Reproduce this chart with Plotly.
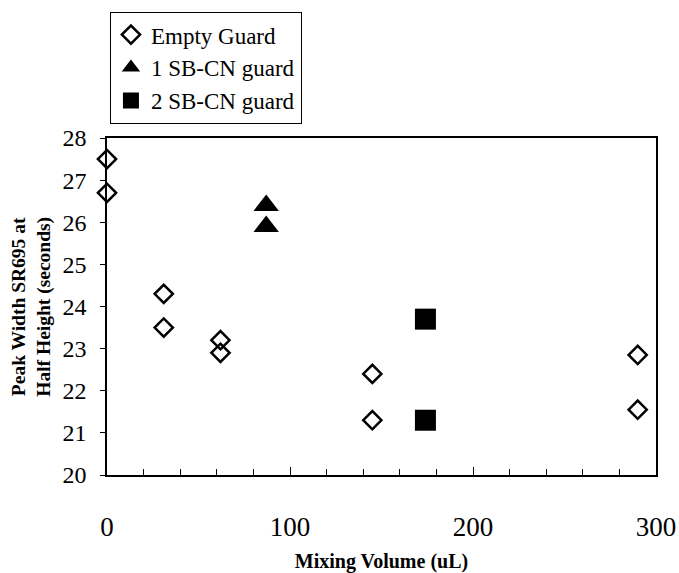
import plotly.graph_objects as go

# Data
empty_x = [0, 0, 31, 31, 62, 62, 145, 145, 290, 290]
empty_y = [27.5, 26.7, 24.3, 23.5, 23.2, 22.9, 22.4, 21.3, 22.85, 21.55]
one_x = [87, 87]
one_y = [26.4, 25.9]
two_x = [174, 174]
two_y = [23.7, 21.3]

x_ticks = [0, 100, 200, 300]
y_ticks = [20, 21, 22, 23, 24, 25, 26, 27, 28]

font_family = "Liberation Serif"

fig = go.Figure()
fig.add_trace(go.Scatter(x=empty_x, y=empty_y, mode="markers", name="Empty Guard",
                         marker=dict(symbol="diamond-open", size=14, color="black",
                                     line=dict(width=2.5, color="black")),
                         cliponaxis=False))
fig.add_trace(go.Scatter(x=one_x, y=one_y, mode="markers", name="1 SB-CN guard",
                         marker=dict(symbol="triangle-up", size=22, color="black"),
                         cliponaxis=False))
fig.add_trace(go.Scatter(x=two_x, y=two_y, mode="markers", name="2 SB-CN guard",
                         marker=dict(symbol="square", size=21, color="black"),
                         cliponaxis=False))

fig.update_layout(
    width=679, height=573,
    margin=dict(l=107, r=23, t=138, b=98),
    paper_bgcolor="white", plot_bgcolor="white",
    font=dict(family=font_family, color="black"),
    showlegend=True,
    legend=dict(x=0.005, y=1.374, xanchor="left", yanchor="top",
                bordercolor="black", borderwidth=1.2, bgcolor="white",
                font=dict(size=23, family=font_family),
                itemsizing="trace", tracegroupgap=0, itemwidth=30),
)
fig.update_xaxes(
    range=[0, 300], tickvals=x_ticks, ticktext=[str(v) for v in x_ticks],
    ticks="inside", ticklen=8, tickwidth=1, tickcolor="black",
    minor=dict(dtick=20, ticks="inside", ticklen=6, tickwidth=1, tickcolor="black"),
    showline=True, linecolor="black", linewidth=1.5, mirror=True,
    showgrid=False, zeroline=False, automargin=False,
    tickfont=dict(size=27, family=font_family),
    ticklabelstandoff=27,
    title=dict(text="<b>Mixing Volume (uL)</b>", font=dict(size=20, family=font_family), standoff=21),
)
fig.update_yaxes(
    range=[20, 28], tickvals=y_ticks,
    ticks="outside", ticklen=5, tickwidth=1, tickcolor="black",
    showline=True, linecolor="black", linewidth=1.5, mirror=True,
    showgrid=False, zeroline=False, automargin=False,
    tickfont=dict(size=24, family=font_family),
    ticklabelstandoff=9,
)
fig.add_annotation(text="<b>Peak Width SR695 at<br>Half Height (seconds)</b>",
                   xref="paper", yref="paper", x=-0.138, y=0.5,
                   xanchor="center", yanchor="middle", textangle=-90, showarrow=False,
                   font=dict(size=19.5, family=font_family))

fig.write_html("out.html")
